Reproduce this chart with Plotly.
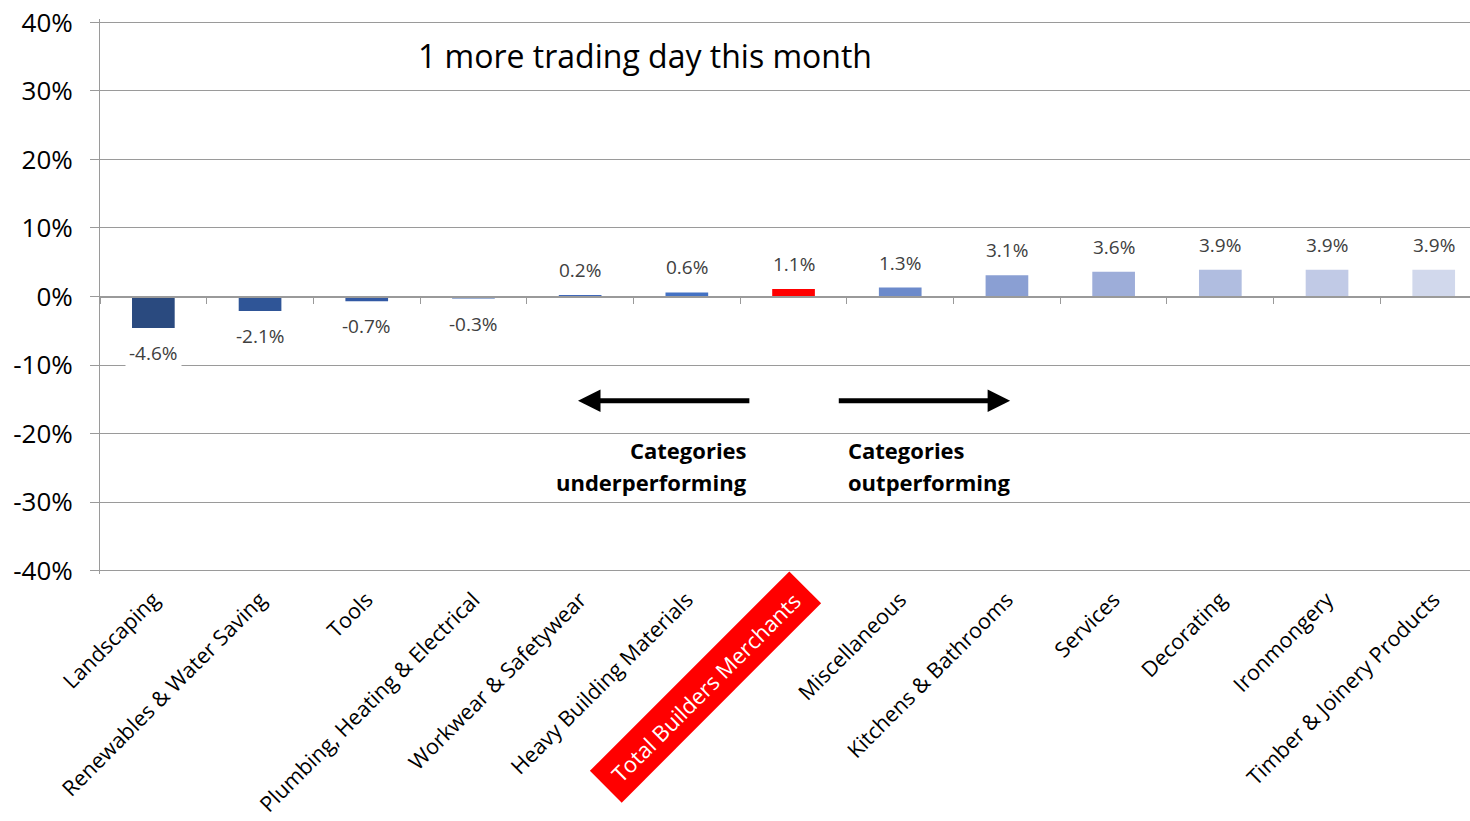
import plotly.graph_objects as go

categories = ["Landscaping", "Renewables & Water Saving", "Tools",
              "Plumbing, Heating & Electrical", "Workwear & Safetywear",
              "Heavy Building Materials", "Total Builders Merchants",
              "Miscellaneous", "Kitchens & Bathrooms", "Services",
              "Decorating", "Ironmongery", "Timber & Joinery Products"]
values = [-4.6, -2.1, -0.7, -0.3, 0.2, 0.6, 1.1, 1.3, 3.1, 3.6, 3.9, 3.9, 3.9]
bar_colors = ["#2A4A7F", "#2F5597", "#3259A4", "#3A64B0", "#4068BA", "#4472C4",
              "#FF0000", "#6C8ACB", "#8A9FD3", "#9DADD9", "#B0BDE0", "#C1CAE6", "#D1D8EC"]
highlight = "Total Builders Merchants"
y_ticks = [-40, -30, -20, -10, 0, 10, 20, 30, 40]

FONT = "Open Sans"
GRID = "#9A9A9A"
x_range = [-0.5, 12.34]
y_range = [-40.5, 40.5]

fig = go.Figure()
fig.add_trace(go.Bar(x=categories, y=values, width=0.4,
                     marker=dict(color=bar_colors, line=dict(width=0)),
                     hoverinfo="skip", showlegend=False))
# invisible trace carrying the zero-line axis with boundary ticks
fig.add_trace(go.Scatter(x=categories, y=values, xaxis="x2", mode="markers",
                         marker=dict(opacity=0), hoverinfo="skip", showlegend=False))

annotations = []
for c, v in zip(categories, values):
    neg = v < 0
    annotations.append(dict(
        x=c, y=v, xref="x", yref="y", text=f"{v:.1f}%", showarrow=False,
        yanchor="top" if neg else "bottom", yshift=-8 if neg else 8,
        font=dict(family=FONT, size=19, color="#404040"),
        bgcolor="white" if neg else "rgba(0,0,0,0)", borderpad=3))

# highlighted category label
annotations.append(dict(
    x=highlight, y=0, xref="x", yref="paper", text="\u00a0" + highlight + "\u00a0",
    showarrow=False, textangle=-45, xanchor="center", yanchor="middle",
    xshift=-88, yshift=-113,
    font=dict(family=FONT, size=22, color="white"), bgcolor="#FF0000", borderpad=7))

annotations.append(dict(
    x=2.46, y=35.2, xref="x", yref="y", text="1 more trading day this month",
    showarrow=False, xanchor="left", yanchor="middle",
    font=dict(family=FONT, size=32, color="black")))

annotations.append(dict(
    x=3.98, y=-15.2, ax=5.6, ay=-15.2, xref="x", yref="y", axref="x", ayref="y",
    text="", showarrow=True, arrowhead=2, arrowsize=0.9, arrowwidth=5, arrowcolor="black"))
annotations.append(dict(
    x=8.03, y=-15.2, ax=6.41, ay=-15.2, xref="x", yref="y", axref="x", ayref="y",
    text="", showarrow=True, arrowhead=2, arrowsize=0.9, arrowwidth=5, arrowcolor="black"))

for line, yv in [("Categories", -22.4), ("underperforming", -27.1)]:
    annotations.append(dict(
        x=5.58, y=yv, xref="x", yref="y", text=f"<b>{line}</b>",
        showarrow=False, xanchor="right", yanchor="middle",
        font=dict(family=FONT, size=22, color="black")))
for line, yv in [("Categories", -22.4), ("outperforming", -27.1)]:
    annotations.append(dict(
        x=6.49, y=yv, xref="x", yref="y", text=f"<b>{line}</b>",
        showarrow=False, xanchor="left", yanchor="middle",
        font=dict(family=FONT, size=22, color="black")))

ticktext = ["" if c == highlight else c for c in categories]

fig.update_layout(
    width=1470, height=821,
    margin=dict(l=100, r=0, t=19, b=247, autoexpand=False),
    plot_bgcolor="white", paper_bgcolor="white",
    font=dict(family=FONT, color="black"),
    xaxis=dict(type="category", categoryorder="array", categoryarray=categories,
               range=x_range, tickmode="array", tickvals=categories, ticktext=ticktext,
               tickangle=-45, tickfont=dict(family=FONT, size=21.5, color="black"),
               ticks="", showgrid=False, showline=False, zeroline=False,
               ticklabelstandoff=8, automargin=False, ticklabeloverflow="allow"),
    xaxis2=dict(type="category", categoryorder="array", categoryarray=categories,
                range=x_range, overlaying="x", anchor="free", position=0.5,
                showticklabels=False, ticks="outside", tickson="boundaries",
                ticklen=7, tickcolor=GRID, showline=True, linecolor=GRID,
                linewidth=1.5, showgrid=False, zeroline=False, automargin=False),
    yaxis=dict(range=y_range, tickmode="array", tickvals=y_ticks,
               ticktext=[f"{t}%" for t in y_ticks],
               tickfont=dict(family=FONT, size=26, color="black"),
               showgrid=True, gridcolor=GRID, gridwidth=1, zeroline=False,
               showline=True, linecolor=GRID, linewidth=1,
               ticks="outside", ticklen=9, tickcolor=GRID, ticklabelstandoff=12,
               automargin=False, ticklabeloverflow="allow"),
    annotations=annotations,
)

fig.write_html("out.html", config={"displayModeBar": False},
               post_script="document.body.style.margin='0';")
